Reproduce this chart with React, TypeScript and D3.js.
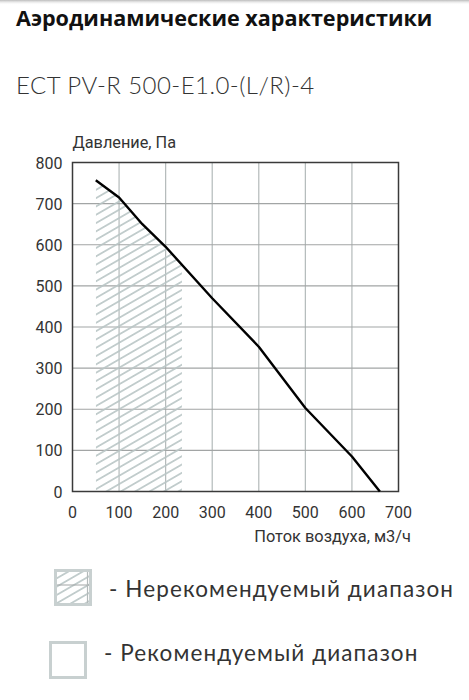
import { scaleLinear, line, area } from "d3";

const FLOW = [50, 100, 150, 200, 300, 400, 500, 600, 660];
const PRESSURE = [757, 715, 650, 595, 470, 352, 203, 85, 0];
const X_TICKS = [0, 100, 200, 300, 400, 500, 600, 700];
const Y_TICKS = [0, 100, 200, 300, 400, 500, 600, 700, 800];
const HATCH_RANGE = [50, 235];

const TITLE = "Аэродинамические характеристики";
const MODEL = "ECT PV-R 500-E1.0-(L/R)-4";
const Y_LABEL = "Давление, Па";
const X_LABEL = "Поток воздуха, м3/ч";
const LEGEND = ["- Нерекомендуемый диапазон", "- Рекомендуемый диапазон"];

const W = 469, H = 700;
const P = { left: 72.5, right: 398.5, top: 162.5, bottom: 491.5 };
const TXT = "#333";
const HATCH = "#b9c6c6";

export default function App() {
  const x = scaleLinear().domain([0, 700]).range([P.left, P.right]);
  const y = scaleLinear().domain([0, 800]).range([P.bottom, P.top]);
  const pts = FLOW.map((f, i) => [f, PRESSURE[i]] as [number, number]);
  const curve = line<[number, number]>().x(d => x(d[0])).y(d => y(d[1]))(pts) ?? "";
  const under = area<[number, number]>().x(d => x(d[0])).y0(y(0)).y1(d => y(d[1]))(pts) ?? "";

  return (
    <div style={{ position: "absolute", left: 0, top: 0 }}>
      <svg width={W} height={H} style={{ display: "block", background: "#fff" }}>
        <defs>
          <linearGradient id="shade" x1="0" y1="0" x2="0" y2="1">
            <stop offset="0" stopColor="#bbb" />
            <stop offset="1" stopColor="#fff" stopOpacity={0} />
          </linearGradient>
          <pattern id="hatch" width={8} height={7.2} patternUnits="userSpaceOnUse" patternTransform="rotate(-30)">
            <line x1={0} x2={8} y1={3.6} y2={3.6} stroke={HATCH} strokeWidth={1.6} />
          </pattern>
          <clipPath id="under"><path d={under} /></clipPath>
          <clipPath id="leg1"><rect x={55} y={570} width={36} height={35} /></clipPath>
        </defs>
        <rect width={W} height={5} fill="url(#shade)" />

        <text x={16} y={26} fontFamily="'Open Sans', sans-serif" fontWeight={700} fontSize={21.6} fill="#111">{TITLE}</text>
        <text x={16} y={94} fontFamily="Lato, sans-serif" fontWeight={300} fontSize={24} letterSpacing={0.45} fill={TXT}>{MODEL}</text>

        {/* grid */}
        {X_TICKS.slice(1, -1).map(t => (
          <line key={"gx" + t} x1={x(t)} x2={x(t)} y1={P.top} y2={P.bottom} stroke="#b3baba" strokeWidth={1.2} />
        ))}
        {Y_TICKS.slice(1, -1).map(t => (
          <line key={"gy" + t} x1={P.left} x2={P.right} y1={y(t)} y2={y(t)} stroke="#a2a5a5" strokeWidth={1.2} />
        ))}

        {/* not recommended range */}
        <rect x={x(HATCH_RANGE[0])} width={x(HATCH_RANGE[1]) - x(HATCH_RANGE[0])} y={P.top} height={P.bottom - P.top}
          fill="url(#hatch)" clipPath="url(#under)" />

        <rect x={P.left} y={P.top} width={P.right - P.left} height={P.bottom - P.top} fill="none" stroke="#3a3a3a" strokeWidth={1.5} />
        <path d={curve} fill="none" stroke="#000" strokeWidth={2.4} strokeLinejoin="round" />

        {Y_TICKS.map(t => (
          <text key={"ty" + t} x={P.left - 10} y={y(t) + 6} textAnchor="end" fontFamily="Roboto, sans-serif" fontSize={16} fill={TXT}>{t}</text>
        ))}
        {X_TICKS.map(t => (
          <text key={"tx" + t} x={x(t)} y={518} textAnchor="middle" fontFamily="Roboto, sans-serif" fontSize={16} fill={TXT}>{t}</text>
        ))}
        <text x={P.left} y={148} fontFamily="Roboto, sans-serif" fontSize={16.3} fill={TXT}>{Y_LABEL}</text>
        <text x={411} y={542} textAnchor="end" fontFamily="Roboto, sans-serif" fontSize={16.4} fill={TXT}>{X_LABEL}</text>

        {/* legend */}
        <g>
          <g clipPath="url(#leg1)">
            <rect x={55} y={570} width={36} height={35} fill="url(#hatch)" />
            <line x1={55} x2={91} y1={585} y2={585} stroke="#a2a5a5" strokeWidth={1.2} />
            <line x1={87.5} x2={87.5} y1={570} y2={605} stroke="#b3baba" strokeWidth={1.2} />
          </g>
          <rect x={55.5} y={570.5} width={35} height={34} fill="none" stroke="#c8d0d0" strokeWidth={3} />
          <text x={109} y={597} fontFamily="Lato, sans-serif" fontSize={22.5} letterSpacing={1.1} fill={TXT}>{LEGEND[0]}</text>
        </g>
        <g>
          <rect x={50.5} y={642.5} width={35} height={35} fill="none" stroke="#c8d0d0" strokeWidth={3} />
          <text x={104} y={661} fontFamily="Lato, sans-serif" fontSize={22.5} letterSpacing={1.1} fill={TXT}>{LEGEND[1]}</text>
        </g>
      </svg>
    </div>
  );
}
